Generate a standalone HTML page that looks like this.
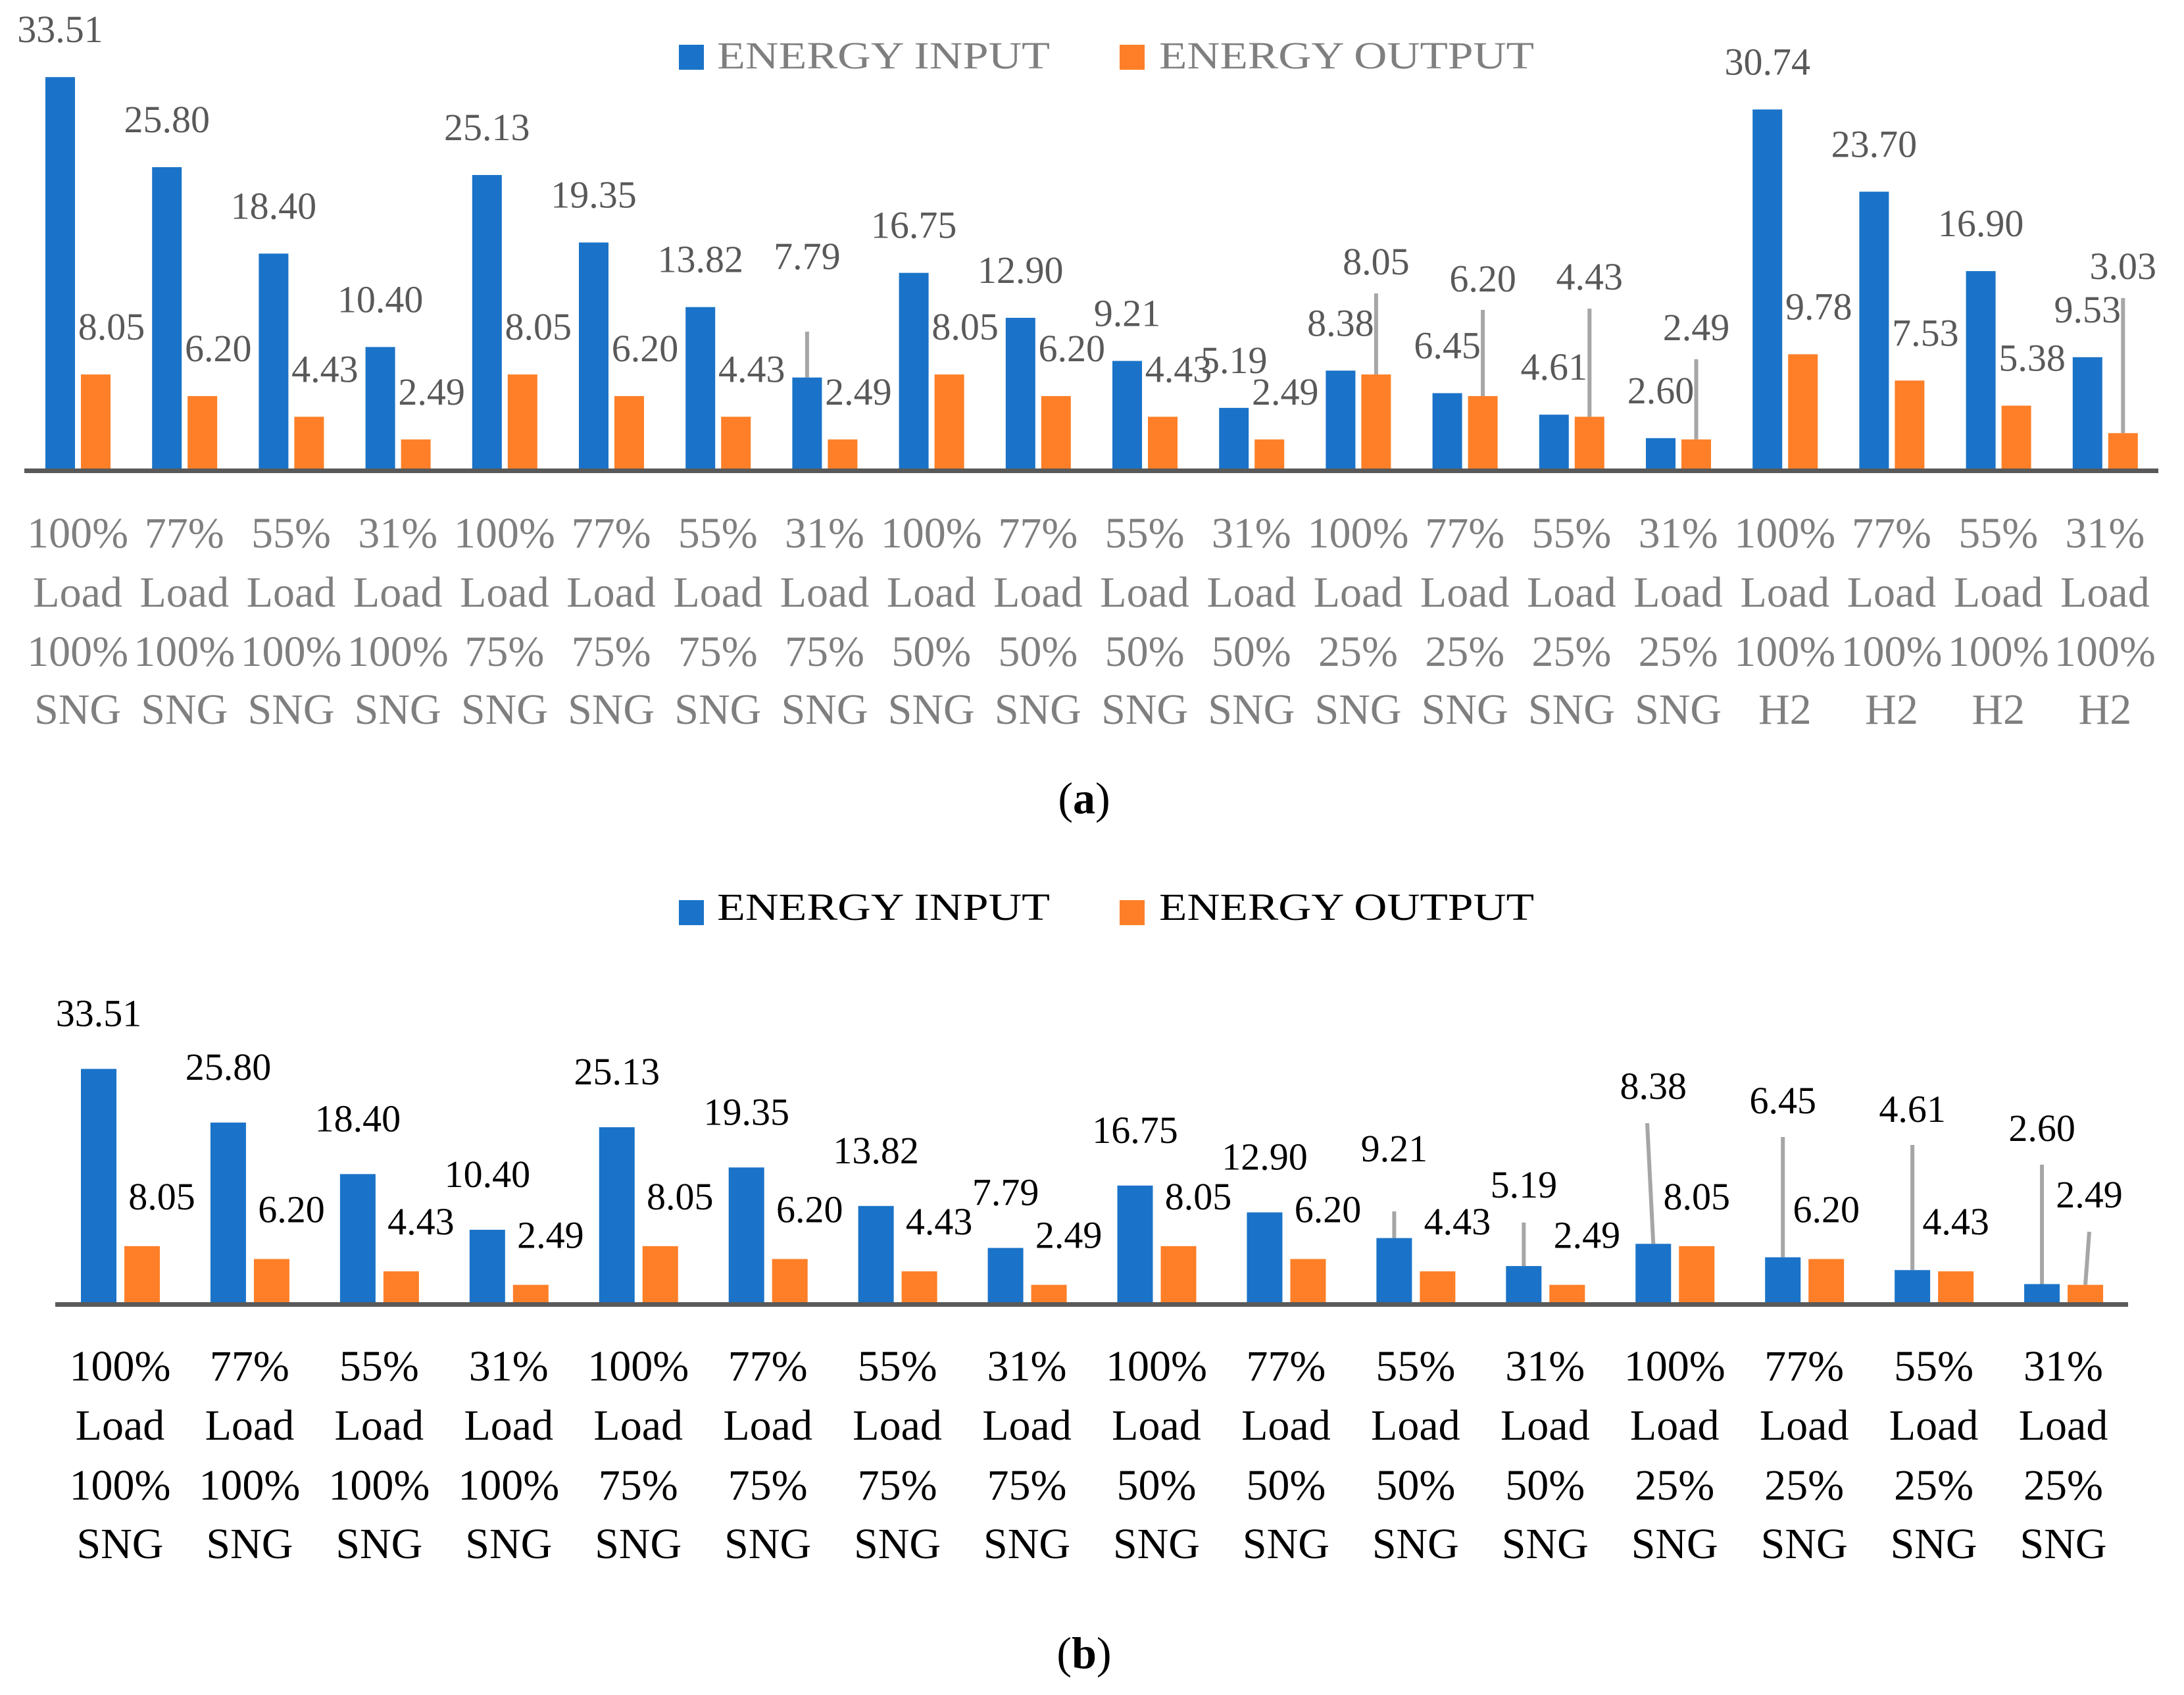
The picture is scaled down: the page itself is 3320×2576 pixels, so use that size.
<!DOCTYPE html>
<html><head><meta charset="utf-8">
<style>
html,body{margin:0;padding:0;background:#fff;}
svg{display:block;}
text{font-family:"Liberation Serif",serif;}
</style></head>
<body>
<svg id="chart" width="3320" height="2576" viewBox="0 0 3320 2576" xmlns="http://www.w3.org/2000/svg">
  <g>
    <rect x="1032" y="68" width="38" height="38" fill="#1a73c8"/>
    <text x="1090" y="104" font-size="58" fill="#7f7f7f" textLength="506" lengthAdjust="spacingAndGlyphs">ENERGY INPUT</text>
    <rect x="1702" y="68" width="38" height="38" fill="#fe7f27"/>
    <text x="1762" y="104" font-size="58" fill="#7f7f7f" textLength="570" lengthAdjust="spacingAndGlyphs">ENERGY OUTPUT</text>
  </g>
  <g>
    <rect x="1032" y="1368" width="38" height="38" fill="#1a73c8"/>
    <text x="1090" y="1398" font-size="58" fill="#000" textLength="506" lengthAdjust="spacingAndGlyphs">ENERGY INPUT</text>
    <rect x="1702" y="1368" width="38" height="38" fill="#fe7f27"/>
    <text x="1762" y="1398" font-size="58" fill="#000" textLength="570" lengthAdjust="spacingAndGlyphs">ENERGY OUTPUT</text>
  </g>
  <text x="1648" y="1236" font-size="68" text-anchor="middle" fill="#000">(<tspan font-weight="bold">a</tspan>)</text>
  <text x="1648" y="2535" font-size="68" text-anchor="middle" fill="#000">(<tspan font-weight="bold">b</tspan>)</text>
  <g id="ga"></g>
  <g id="gb"></g>
</svg>
<script>
const catLoadA = ["100%","77%","55%","31%","100%","77%","55%","31%","100%","77%","55%","31%","100%","77%","55%","31%","100%","77%","55%","31%"];
const catFuelA = ["100%","100%","100%","100%","75%","75%","75%","75%","50%","50%","50%","50%","25%","25%","25%","25%","100%","100%","100%","100%"];
const catGasA = ["SNG","SNG","SNG","SNG","SNG","SNG","SNG","SNG","SNG","SNG","SNG","SNG","SNG","SNG","SNG","SNG","H2","H2","H2","H2"];
const inputA = [33.51,25.80,18.40,10.40,25.13,19.35,13.82,7.79,16.75,12.90,9.21,5.19,8.38,6.45,4.61,2.60,30.74,23.70,16.90,9.53];
const outputA = [8.05,6.20,4.43,2.49,8.05,6.20,4.43,2.49,8.05,6.20,4.43,2.49,8.05,6.20,4.43,2.49,9.78,7.53,5.38,3.03];

const catLoadB = ["100%","77%","55%","31%","100%","77%","55%","31%","100%","77%","55%","31%","100%","77%","55%","31%"];
const catFuelB = ["100%","100%","100%","100%","75%","75%","75%","75%","50%","50%","50%","50%","25%","25%","25%","25%"];
const catGasB = ["SNG","SNG","SNG","SNG","SNG","SNG","SNG","SNG","SNG","SNG","SNG","SNG","SNG","SNG","SNG","SNG"];
const inputB = [33.51,25.80,18.40,10.40,25.13,19.35,13.82,7.79,16.75,12.90,9.21,5.19,8.38,6.45,4.61,2.60];
const outputB = [8.05,6.20,4.43,2.49,8.05,6.20,4.43,2.49,8.05,6.20,4.43,2.49,8.05,6.20,4.43,2.49];

const NS = "http://www.w3.org/2000/svg";
function mk(parent, tag, attrs, txt){
  const e = document.createElementNS(NS, tag);
  for (const k in attrs) e.setAttribute(k, attrs[k]);
  if (txt !== undefined) e.textContent = txt;
  parent.appendChild(e);
  return e;
}

function drawChart(g, cfg){
  const n = cfg.inp.length;
  const step = (cfg.x1 - cfg.x0) / n;
  const xg = i => cfg.x0 + i * step;
  const yv = v => cfg.base - v * cfg.scale;
  for (let i = 0; i < n; i++){
    const bx = xg(i) + cfg.bOff, ox = xg(i) + cfg.oOff;
    const bt = yv(cfg.inp[i]), ot = yv(cfg.out[i]);
    const rb = mk(g, "rect", {x: bx, y: bt, width: cfg.bw, height: cfg.base - bt, fill: "#1a73c8"});
    
    
    const ro = mk(g, "rect", {x: ox, y: ot, width: cfg.bw, height: cfg.base - ot, fill: "#fe7f27"});
    
    

    const bcx = bx + cfg.bw/2;
    const bo = cfg.bOver[i];
    const bly = bo ? bo[0] : bt - cfg.bLab;
    if (bo){
      const ln = mk(g, "line", {x1: bo[2] || bcx, y1: bo[1], x2: bcx, y2: bt, stroke: "#a6a6a6", "stroke-width": 6});
      
      
    }
    const tb = mk(g, "text", {x: bcx, y: bly + 20, "font-size": 58, "text-anchor": "middle", fill: cfg.valColor}, cfg.inp[i].toFixed(2));
    
    

    const ocx = ox + cfg.bw/2;
    const oo = cfg.oOver[i];
    let olx = ocx + (cfg.oCenter[i] ? 0 : cfg.oShift);
    const oly = oo ? oo[0] : ot - cfg.oLab;
    if (oo){
      if (oo[2]) olx = oo[2];
      const ln = mk(g, "line", {x1: oo[2] || ocx, y1: oo[1], x2: ocx, y2: ot, stroke: "#a6a6a6", "stroke-width": 6});
      
      
    }
    const to = mk(g, "text", {x: olx, y: oly + 20, "font-size": 58, "text-anchor": "middle", fill: cfg.valColor}, cfg.out[i].toFixed(2));
    
    

    const cx = xg(i) + step/2;
    const lines = [cfg.c1[i], "Load", cfg.c2[i], cfg.c3[i]];
    for (let k = 0; k < 4; k++){
      const t = mk(g, "text", {x: cx, y: cfg.catY[k] + 22, "font-size": 66, "text-anchor": "middle", fill: cfg.catColor}, lines[k]);
      
      
    }
  }
  const ax = mk(g, "rect", {x: cfg.x0, y: cfg.base, width: cfg.x1 - cfg.x0, height: 7, fill: "#595959"});
  
  
}

const N = null;
drawChart(document.getElementById("ga"), {
  inp: inputA, out: outputA, c1: catLoadA, c2: catFuelA, c3: catGasA,
  x0: 37, x1: 3281, base: 712, scale: 17.75, bOff: 32, oOff: 86, bw: 45,
  bLab: 73, oLab: 73, oShift: 24, valColor: "#595959", catColor: "#7f7f7f",
  catY: [810, 900, 990, 1078],
  bOver: [N,N,N,N,N,N,N,[389,504],N,N,N,N,N,N,N,N,N,N,N,N],
  oOver: [N,N,N,N,N,N,N,N,N,N,N,N,[397,446],[423,471],[420,469],[497,546],N,N,N,[404,453]],
  oCenter: [0,0,0,0,0,0,0,0,0,0,0,0,1,1,1,1,0,0,0,1]
});
document.getElementById("ga");
document.getElementById("ga");

drawChart(document.getElementById("gb"), {
  inp: inputB, out: outputB, c1: catLoadB, c2: catFuelB, c3: catGasB,
  x0: 84, x1: 3235, base: 1979, scale: 10.58, bOff: 39, oOff: 105, bw: 54,
  bLab: 85, oLab: 76, oShift: 30, valColor: "#000", catColor: "#000",
  catY: [2076, 2166, 2257, 2346],
  bOver: [N,N,N,N,N,N,N,N,N,N,[1745,1841],[1800,1858],[1650,1707,2504],[1672,1728],[1685,1740],[1714,1770]],
  oOver: [N,N,N,N,N,N,N,N,N,N,N,N,N,N,N,[1815,1872,3176]],
  oCenter: [0,0,0,0,0,0,0,0,0,0,0,0,1,1,1,1]
});
document.getElementById("gb");
document.getElementById("gb");
</script>
</body></html>
